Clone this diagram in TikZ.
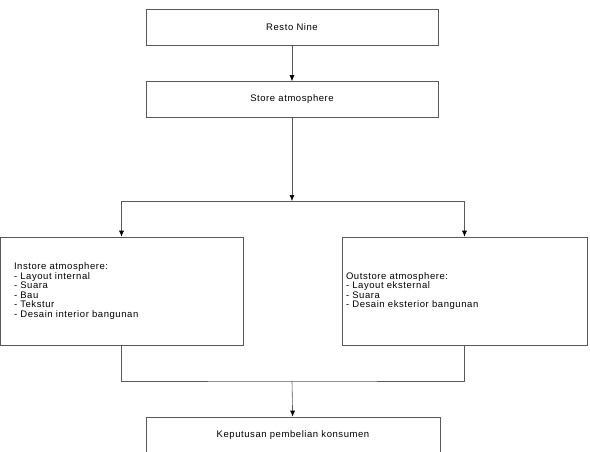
\documentclass[tikz,border=0pt]{standalone}
\usepackage{fontspec}
\setmainfont{Liberation Sans}[LetterSpace=6]
\usetikzlibrary{arrows.meta}

\begin{document}
\begin{tikzpicture}[x=1pt, y=-1pt,
	kotak/.style={draw=black!65, line width=0.6pt, rectangle, minimum width=292pt, minimum height=36pt, inner sep=0pt, font=\fontsize{9.5}{9.6}\selectfont},
	daftar/.style={kotak, minimum width=0pt, minimum height=108pt, align=left},
	garis/.style={draw=black!65, line width=0.6pt},
	panah/.style={garis, -{Latex[length=6pt,width=5pt,color=black]}}
	]
	\useasboundingbox (0,0) rectangle (590,452);

	\node[kotak] (resto) at (292,27) {Resto Nine};
	\node[kotak] (store) at (292,99.5) {Store atmosphere};
	\node[daftar, text width=215pt, inner xsep=14pt] (instore) at (121.5,291)
		{Instore atmosphere:\\- Layout internal\\- Suara\\- Bau\\- Tekstur\\- Desain interior bangunan};
	\node[daftar, text width=237pt, inner xsep=4pt] (outstore) at (464.5,291)
		{Outstore atmosphere:\\- Layout eksternal\\- Suara\\- Desain eksterior bangunan};
	\node[kotak, minimum width=294pt] (keputusan) at (293,435) {Keputusan pembelian konsumen};

	\coordinate (cabang) at (292,201);
	\coordinate (gabung) at (292,381);

	\draw[panah] (resto) -- (store);
	\draw[panah] (store) -- (cabang);
	\draw[panah] (cabang) -| (instore.north);
	\draw[panah] (cabang) -| (outstore.north);
	\draw[garis] (instore.south) |- (gabung) -| (outstore.south);
	\draw[panah] (gabung) -- (keputusan);
\end{tikzpicture}
\end{document}
